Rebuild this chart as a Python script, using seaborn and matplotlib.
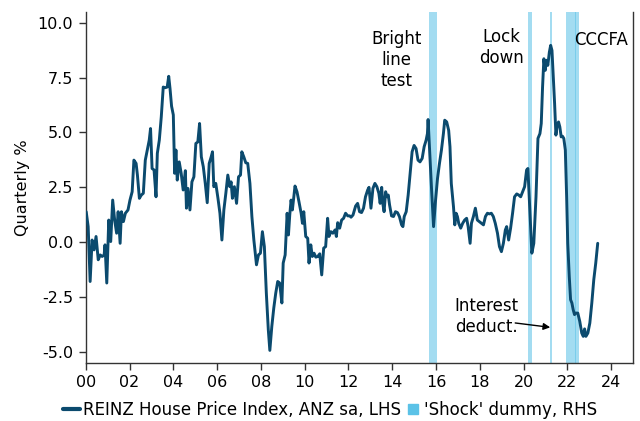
#GRAFICO: variacao trimestral do indice de precos de casas (REINZ) + dummies de choque

import pandas as pd
import numpy as np
import matplotlib
matplotlib.use("Agg")
import matplotlib.pyplot as plt
from matplotlib.lines import Line2D
import seaborn as sns


#DADOS
#anos (fracao do ano) de cada ponto da serie
anos = [
    2000.02, 2000.11, 2000.20, 2000.29, 2000.38, 2000.47, 2000.57, 2000.66, 2000.75, 2000.84, 2000.88, 2000.96,
    2001.05, 2001.14, 2001.23, 2001.32, 2001.41, 2001.48, 2001.57, 2001.63, 2001.72, 2001.81, 2001.93,
    2002.02, 2002.12, 2002.20, 2002.30, 2002.36, 2002.45, 2002.54, 2002.63, 2002.72, 2002.81, 2002.90, 2002.96,
    2003.03, 2003.12, 2003.21, 2003.27, 2003.36, 2003.45, 2003.54, 2003.63, 2003.72, 2003.79, 2003.85, 2003.92,
    2004.00, 2004.06, 2004.12, 2004.18, 2004.27, 2004.36, 2004.45, 2004.55, 2004.60, 2004.67, 2004.76, 2004.85, 2004.94,
    2005.03, 2005.12, 2005.20, 2005.28, 2005.37, 2005.46, 2005.55, 2005.64, 2005.73, 2005.79, 2005.85, 2005.94,
    2006.04, 2006.13, 2006.22, 2006.31, 2006.40, 2006.49, 2006.58, 2006.64, 2006.70, 2006.79, 2006.89, 2006.98,
    2007.07, 2007.13, 2007.22, 2007.31, 2007.40, 2007.50, 2007.59, 2007.68, 2007.80, 2007.89, 2007.98,
    2008.07, 2008.16, 2008.25, 2008.34, 2008.41, 2008.50, 2008.59, 2008.68, 2008.77, 2008.86, 2008.96,
    2009.02, 2009.11, 2009.20, 2009.26, 2009.32, 2009.38, 2009.44, 2009.50, 2009.56, 2009.65, 2009.74, 2009.84, 2009.90, 2009.96,
    2010.05, 2010.14, 2010.20, 2010.28, 2010.35, 2010.43, 2010.51, 2010.60, 2010.69, 2010.78, 2010.87, 2010.96,
    2011.05, 2011.11, 2011.20, 2011.29, 2011.39, 2011.45, 2011.51, 2011.60, 2011.69, 2011.78, 2011.87, 2011.97,
    2012.06, 2012.12, 2012.21, 2012.33, 2012.42, 2012.51, 2012.60, 2012.69, 2012.78, 2012.88, 2012.94,
    2013.03, 2013.12, 2013.21, 2013.30, 2013.39, 2013.45, 2013.52, 2013.57, 2013.63, 2013.70, 2013.76, 2013.82, 2013.88, 2013.97,
    2014.06, 2014.15, 2014.24, 2014.33, 2014.43, 2014.49, 2014.55, 2014.64, 2014.73, 2014.82, 2014.91,
    2015.00, 2015.09, 2015.18, 2015.27, 2015.37, 2015.46, 2015.55, 2015.61, 2015.64, 2015.70, 2015.80, 2015.89, 2015.98,
    2016.07, 2016.16, 2016.25, 2016.34, 2016.40, 2016.49, 2016.58, 2016.64, 2016.70, 2016.80, 2016.86, 2016.92, 2016.98,
    2017.04, 2017.13, 2017.22, 2017.31, 2017.40, 2017.47, 2017.56, 2017.62, 2017.71, 2017.80, 2017.89, 2017.98,
    2018.08, 2018.17, 2018.26, 2018.35, 2018.44, 2018.53, 2018.62, 2018.71, 2018.81, 2018.90, 2018.99,
    2019.08, 2019.17, 2019.23, 2019.32, 2019.41, 2019.50, 2019.59, 2019.69, 2019.78, 2019.87, 2019.96,
    2020.05, 2020.14, 2020.20, 2020.26, 2020.32, 2020.38, 2020.47, 2020.57, 2020.66, 2020.75, 2020.81, 2020.87, 2020.93, 2020.99,
    2021.05, 2021.11, 2021.18, 2021.24, 2021.30, 2021.36, 2021.42, 2021.48, 2021.54, 2021.60, 2021.66, 2021.72, 2021.78, 2021.84, 2021.91, 2021.97,
    2022.02, 2022.09, 2022.15, 2022.21, 2022.27, 2022.33, 2022.39, 2022.48, 2022.57, 2022.66, 2022.73, 2022.79, 2022.85, 2022.94,
    2023.03, 2023.12, 2023.21, 2023.30, 2023.39,
]

#variacao trimestral (%) do indice REINZ
variacao = [
    1.39, 0.71, -1.79, 0.10, -0.35, 0.26, -0.80, -0.58, -0.65, -0.58, -0.12, -1.86,
    1.01, 0.03, 1.92, 1.01, 0.41, 1.39, -0.05, 1.39, 0.94, 1.32, 1.47,
    1.92, 2.30, 3.74, 3.59, 3.06, 2.00, 2.15, 2.23, 3.74, 4.20, 4.65, 5.18,
    3.36, 3.29, 2.07, 4.05, 4.65, 5.71, 7.07, 7.04, 7.07, 7.56, 7.00, 6.20,
    5.80, 3.14, 4.20, 2.83, 3.66, 3.14, 2.38, 3.26, 1.55, 2.45, 1.47, 2.75, 2.98,
    4.50, 4.57, 5.41, 3.89, 3.44, 2.68, 1.80, 3.59, 3.89, 4.12, 2.53, 2.68,
    2.00, 1.32, 0.10, 1.47, 2.23, 3.06, 2.53, 2.75, 2.00, 2.53, 1.77, 2.98,
    3.06, 4.12, 3.89, 3.62, 3.59, 2.68, 1.17, 0.10, -1.03, -0.58, -0.50,
    0.48, -0.20, -2.32, -3.99, -4.93, -3.84, -3.00, -2.32, -1.79, -1.86, -2.77,
    -0.95, -0.58, 1.32, 0.33, 1.24, 1.92, 1.47, 2.00, 2.56, 2.30, 1.85, 1.32, 0.86, 1.39,
    0.26, 0.18, -0.95, -0.12, -0.65, -0.50, -0.68, -0.65, -0.53, -1.49, -0.27, -0.20,
    1.09, 0.26, 0.48, 0.41, 0.56, 0.26, 0.89, 0.64, 1.01, 1.09, 1.32, 1.20,
    1.20, 1.14, 1.24, 1.65, 1.77, 1.39, 1.35, 1.55, 2.07, 2.38, 2.50,
    1.55, 2.45, 2.68, 2.53, 2.23, 1.77, 2.50, 1.77, 1.39, 2.30, 2.07, 2.15, 1.70, 1.20,
    1.17, 1.39, 1.35, 1.17, 0.79, 0.71, 1.17, 1.39, 2.15, 3.14, 4.12,
    4.41, 4.27, 3.74, 3.66, 3.82, 4.35, 4.65, 4.95, 5.59, 4.35, 2.38, 0.71, 1.90,
    2.90, 3.59, 4.20, 4.95, 5.56, 5.48, 5.10, 4.35, 2.68, 1.62, 0.79, 1.32, 1.17,
    0.86, 0.64, 0.86, 1.01, 1.09, 0.71, -0.05, 0.86, 1.17, 1.55, 1.01, 0.94,
    0.86, 0.79, 1.17, 1.32, 1.29, 1.32, 1.17, 0.86, 0.41, -0.20, -0.43,
    -0.05, 0.56, 0.71, 0.10, 0.64, 1.32, 2.07, 2.20, 2.15, 2.07, 2.30,
    2.53, 3.29, 3.36, 2.07, 0.71, -0.50, -0.05, 2.07, 4.73, 4.95, 5.41, 7.07, 8.36, 7.83,
    8.29, 8.06, 8.66, 8.97, 8.74, 7.53, 6.32, 4.88, 5.33, 5.48, 5.25, 4.80, 4.83, 4.73, 4.20, 2.07,
    -0.05, -1.56, -2.62, -2.77, -3.08, -3.30, -3.23, -3.23, -3.61, -4.14, -4.29, -3.95, -4.29, -4.14,
    -3.68, -2.77, -1.71, -0.95, -0.05,
]

#datas (meses) em que a dummy de choque vale 1
choques = [
    2015.75, 2015.83, 2015.92, 2016.00,          #bright line test
    2020.25, 2020.33,                            #lockdown
    2021.25,                                     #interest deductibility
    2022.00, 2022.08, 2022.17, 2022.25, 2022.33, 2022.42, 2022.50,  #CCCFA
]

#ticks dos eixos
anos_ticks = list(range(2000, 2025, 2))
y_ticks = [-5.0, -2.5, 0.0, 2.5, 5.0, 7.5, 10.0]

df = pd.DataFrame({"ano": anos, "variacao": variacao})


#CONFIGURACOES VISUAIS
sns.set_theme(style="ticks")
plt.rcParams["font.family"] = ["DejaVu Sans"]
plt.rcParams["axes.unicode_minus"] = False
plt.rcParams["text.color"] = "black"
plt.rcParams["axes.labelcolor"] = "black"
plt.rcParams["xtick.color"] = "black"
plt.rcParams["ytick.color"] = "black"

cor_linha = "#0B4A6E"
cor_choque = "#5BC2E7"

fig = plt.figure(figsize=(6.4, 4.21), dpi=100)
ax = fig.add_axes([0.134, 0.138, 0.855, 0.834])

#dummies de choque (linhas verticais por tras da serie)
for c in choques:
    ax.axvline(c, color=cor_choque, lw=1.15, alpha=0.7, zorder=1)

#serie principal
sns.lineplot(data=df, x="ano", y="variacao", color=cor_linha, lw=2.1, ax=ax, zorder=3)

#eixos
ax.set_xlim(2000, 2025)
ax.set_ylim(-5.5, 10.5)
ax.set_yticks(y_ticks)
ax.set_yticklabels([f"{v:.1f}" for v in y_ticks])
ax.set_xticks(anos_ticks)
ax.set_xticklabels([f"{a % 100:02d}" for a in anos_ticks])
ax.set_xlabel("")
ax.set_ylabel("Quarterly %", fontsize=11.5)
ax.yaxis.set_label_coords(-0.102, 0.5)
ax.tick_params(axis="both", labelsize=11.5, length=5, width=1, color="#333333", pad=4)

#spines: esquerda, baixo e direita (RHS)
for lado in ["left", "bottom", "right"]:
    ax.spines[lado].set_visible(True)
    ax.spines[lado].set_color("#333333")
    ax.spines[lado].set_linewidth(1)
ax.spines["top"].set_visible(False)

#anotacoes
ax.text(2014.2, 9.65, "Bright\nline\ntest", ha="center", va="top", fontsize=12, linespacing=1.2)
ax.text(2019.0, 9.75, "Lock\ndown", ha="center", va="top", fontsize=12, linespacing=1.2)
ax.text(2022.32, 9.2, "CCCFA", ha="left", va="center", fontsize=12)
ax.text(2018.3, -3.4, "Interest\ndeduct.", ha="center", va="center", fontsize=12, linespacing=1.2)
ax.annotate(
    "",
    xy=(2021.22, -3.88),
    xytext=(2019.62, -3.68),
    arrowprops=dict(arrowstyle="-|>", color="black", lw=1, mutation_scale=10,
                    shrinkA=0, shrinkB=0),
)

#legenda embaixo
handles = [
    Line2D([0], [0], color=cor_linha, lw=3),
    Line2D([0], [0], marker="s", color="none", markerfacecolor=cor_choque,
           markeredgecolor=cor_choque, markersize=7.5),
]
labels = ["REINZ House Price Index, ANZ sa, LHS", "'Shock' dummy, RHS"]
fig.legend(
    handles, labels,
    loc="center",
    bbox_to_anchor=(0.516, 0.026),
    ncol=2,
    frameon=False,
    fontsize=12,
    handlelength=1.0,
    handletextpad=0.15,
    columnspacing=0.25,
)

#salva grafico
plt.savefig("out.png", dpi=100)
